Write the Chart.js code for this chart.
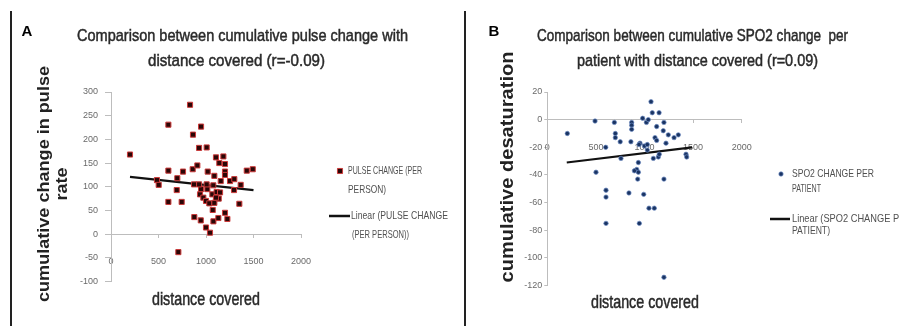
<!DOCTYPE html>
<html>
<head>
<meta charset="utf-8">
<script src="https://cdn.jsdelivr.net/npm/chart.js@4.4.1/dist/chart.umd.min.js"></script>
<style>
  body { margin: 0; background: #fff; }
  #wrap { position: relative; width: 899px; height: 326px; overflow: hidden; }
  canvas { position: absolute; top: 0; }
  #chartA { left: 0; }
  #chartB { left: 463px; }
</style>
</head>
<body>
<div id="wrap">
  <canvas id="chartA" width="463" height="326"></canvas>
  <canvas id="chartB" width="436" height="326"></canvas>
</div>
<script>
// Panel A: cumulative pulse change vs distance covered
const distanceA = [200, 832, 604, 948, 863, 927, 1007, 1105, 1183, 1140, 1200, 604, 758, 860, 909, 1018,
  1088, 1200, 1200, 1429, 1492, 698, 484, 502, 1155, 1253, 1298, 1365, 1295, 1351, 692, 604, 744, 877,
  945, 1000, 1042, 1078, 1130, 1200, 1225, 1071, 937, 972, 1000, 1035, 1088, 1014, 1067, 948, 927, 874,
  1007, 1077, 1112, 1134, 1148, 1105, 709];
const pulseChange = [168, 273, 231, 227, 210, 182, 183, 162, 164, 150, 148, 134, 132, 137, 145, 132,
  123, 132, 125, 134, 137, 118, 114, 104, 112, 112, 116, 104, 93, 64, 93, 68, 68, 36,
  29, 14, 3, 27, 34, 45, 32, 51, 84, 77, 70, 65, 66, 95, 84, 95, 105, 105,
  105, 103, 89, 75, 88, 77, -38];
const trendDistanceA = [200, 1500];
const trendPulse = [121, 93];

// Panel B: cumulative SPO2 change vs distance covered
const distanceB = [206, 491, 690, 700, 700, 750, 601, 868, 868, 868, 860, 758, 981, 1020, 1039, 1067,
  1080, 1150, 1200, 1125, 1193, 1245, 1304, 1348, 1221, 1108, 1125, 954, 944, 999, 1029, 1029, 1091,
  1142, 1152, 1427, 1434, 937, 920, 937, 501, 896, 930, 1200, 604, 604, 840, 992, 1046, 1101, 604,
  947, 1200];
const spo2Change = [-10, -1, -2, -10, -13, -16, -20, -2, -4, -7, -16, -28, 1, -2, 0, 13,
  5, 5, -2, -5, -8, -11, -13, -11, -17, -13, -15, -17, -18, -19, -18, -22, -28,
  -27, -25, -25, -27, -31, -36, -38, -38, -37, -43, -43, -51, -56, -53, -54, -64, -64, -75,
  -75, -114];
const trendDistanceB = [200, 1490];
const trendSpo2 = [-31, -20];

const xTicks = [0, 500, 1000, 1500, 2000];
const yTicksA = [-100, -50, 0, 50, 100, 150, 200, 250, 300];
const yTicksB = [-120, -100, -80, -60, -40, -20, 0, 20];

const sans = '"Liberation Sans", Arial, sans-serif';

function pairs(xs, ys) {
    return xs.map((x, i) => ({ x: x, y: ys[i] }));
}

function setTicks(values) {
    return function(scale) {
        scale.ticks = values.map(v => ({ value: v }));
    };
}

// draw text squeezed/stretched horizontally to a given width (no narrow font installed)
function fitText(ctx, text, x, y, width, stroke) {
    const w = ctx.measureText(text).width;
    ctx.save();
    ctx.translate(x, y);
    ctx.scale(width / w, 1);
    ctx.fillText(text, 0, 0);
    if (stroke) {
        ctx.strokeStyle = ctx.fillStyle;
        ctx.lineWidth = stroke;
        ctx.strokeText(text, 0, 0);
    }
    ctx.restore();
}

// titles, axis titles, legend and frame lines drawn on top of each chart
function decor(d) {
    return {
        id: 'decor',
        afterDraw(chart) {
            const ctx = chart.ctx;
            ctx.save();
            ctx.fillStyle = '#222';
            ctx.fillRect(d.frameX, 11, 2, 315);

            ctx.textBaseline = 'middle';
            ctx.textAlign = 'center';
            ctx.fillStyle = '#000';
            ctx.font = 'bold 15px ' + sans;
            ctx.fillText(d.letter, d.letterX, 32);

            ctx.fillStyle = '#2a2a2a';
            ctx.font = '17px ' + sans;
            d.title.forEach((t, i) => fitText(ctx, t, d.titleX[i], 36 + i * 25, d.titleW[i], 0.5));

            ctx.font = '18px ' + sans;
            fitText(ctx, 'distance covered', d.xTitle[0], d.xTitle[1], 108, 0.5);

            ctx.fillStyle = '#222';
            ctx.font = 'bold ' + d.yTitleSize + 'px ' + sans;
            d.yTitle.forEach((t, i) => {
                ctx.save();
                ctx.translate(d.yTitleX[i], d.yTitleY);
                ctx.rotate(-Math.PI / 2);
                fitText(ctx, t, 0, 0, d.yTitleW[i]);
                ctx.restore();
            });

            // legend
            const ds = chart.data.datasets;
            ctx.fillStyle = ds[0].backgroundColor;
            ctx.strokeStyle = ds[0].borderColor;
            ctx.lineWidth = ds[0].borderWidth;
            Chart.helpers.drawPoint(ctx, {
                pointStyle: ds[0].pointStyle, radius: ds[0].pointRadius, rotation: 0,
                borderWidth: ds[0].borderWidth
            }, d.legend.markerX, d.legend.rows[0]);

            ctx.strokeStyle = ds[1].borderColor;
            ctx.lineWidth = 2.5;
            ctx.beginPath();
            ctx.moveTo(d.legend.lineX[0], d.legend.rows[2]);
            ctx.lineTo(d.legend.lineX[1], d.legend.rows[2]);
            ctx.stroke();

            ctx.fillStyle = '#505050';
            ctx.textAlign = 'left';
            ctx.font = '11px ' + sans;
            d.legend.text.forEach((t, i) =>
                fitText(ctx, t, d.legend.textX[i], d.legend.rows[i], d.legend.widths[i]));
            ctx.restore();
        }
    };
}

function axisStyle(tickLength, padding, ticks) {
    return {
        type: 'linear',
        afterBuildTicks: setTicks(ticks),
        grid: { drawOnChartArea: false, drawTicks: true, tickLength: tickLength, color: '#bdbdbd' },
        border: { color: '#bdbdbd', width: 1 },
        ticks: {
            padding: padding, color: '#6a6a6a', autoSkip: false, maxRotation: 0,
            font: { family: sans, size: 9 },
            callback: v => String(v)
        }
    };
}

function makeChart(id, cfg) {
    const x = axisStyle(3, 19, xTicks);
    x.position = { y: 0 };
    x.min = 0;
    x.max = 2000;
    x.afterFit = s => { s.height = 0; };
    const y = axisStyle(cfg.yTick[0], cfg.yTick[1], cfg.yTicks);
    y.position = 'left';
    y.min = cfg.yTicks[0];
    y.max = cfg.yTicks[cfg.yTicks.length - 1];
    y.afterFit = s => { s.width = cfg.left; };

    return new Chart(document.getElementById(id), {
        type: 'scatter',
        data: {
            datasets: [{
                label: cfg.label,
                data: cfg.points,
                pointStyle: cfg.pointStyle,
                pointRadius: cfg.radius,
                backgroundColor: cfg.fill,
                borderColor: cfg.edge,
                borderWidth: 1
            }, {
                type: 'line',
                label: 'Linear (' + cfg.label + ')',
                data: cfg.trend,
                showLine: true,
                borderColor: '#111',
                borderWidth: 2.2,
                pointRadius: 0,
                fill: false
            }]
        },
        options: {
            responsive: false,
            animation: false,
            layout: { padding: cfg.padding },
            plugins: { legend: { display: false }, tooltip: { enabled: false } },
            scales: { x: x, y: y }
        },
        plugins: [decor(cfg.decor)]
    });
}

makeChart('chartA', {
    label: 'PULSE CHANGE (PER PERSON)',
    points: pairs(distanceA, pulseChange),
    trend: pairs(trendDistanceA, trendPulse),
    pointStyle: 'rect', radius: 3.6, fill: '#2a0606', edge: '#cc3a3a',
    yTicks: yTicksA, yTick: [6, 7], left: 111,
    padding: { left: 0, top: 92, right: 162, bottom: 44.5 },
    decor: {
        frameX: 10, letter: 'A', letterX: 27,
        title: ['Comparison between cumulative pulse change with', 'distance covered (r=-0.09)'],
        titleX: [242.5, 236.5], titleW: [331, 177],
        xTitle: [206, 300],
        yTitle: ['cumulative change in pulse', 'rate'], yTitleX: [44, 62], yTitleY: 184,
        yTitleW: [236, 33], yTitleSize: 17,
        legend: {
            markerX: 340, lineX: [329, 350],
            rows: [171, 190, 216, 235],
            textX: [348, 348, 351, 352],
            widths: [74, 38, 97, 57],
            text: ['PULSE CHANGE (PER', 'PERSON)', 'Linear (PULSE CHANGE', '(PER PERSON))']
        }
    }
});

makeChart('chartB', {
    label: 'SPO2 CHANGE PER PATIENT',
    points: pairs(distanceB, spo2Change),
    trend: pairs(trendDistanceB, trendSpo2),
    pointStyle: 'circle', radius: 2.2, fill: '#1a3463', edge: 'rgba(110,140,195,0.7)',
    yTicks: yTicksB, yTick: [3, 2], left: 84.3,
    padding: { left: 0, top: 92, right: 157.3, bottom: 40.4 },
    decor: {
        frameX: 1, letter: 'B', letterX: 31,
        title: ['Comparison between cumulative SPO2 change  per', 'patient with distance covered (r=0.09)'],
        titleX: [229.5, 234.5], titleW: [311, 241],
        xTitle: [182, 303],
        yTitle: ['cumulative desaturation'], yTitleX: [45], yTitleY: 167,
        yTitleW: [231], yTitleSize: 18,
        legend: {
            markerX: 318, lineX: [307, 327],
            rows: [174, 189, 219, 231],
            textX: [329, 329, 329, 329],
            widths: [82, 29, 120, 38],
            text: ['SPO2 CHANGE PER', 'PATIENT', 'Linear (SPO2 CHANGE PER', 'PATIENT)']
        }
    }
});
</script>
</body>
</html>
